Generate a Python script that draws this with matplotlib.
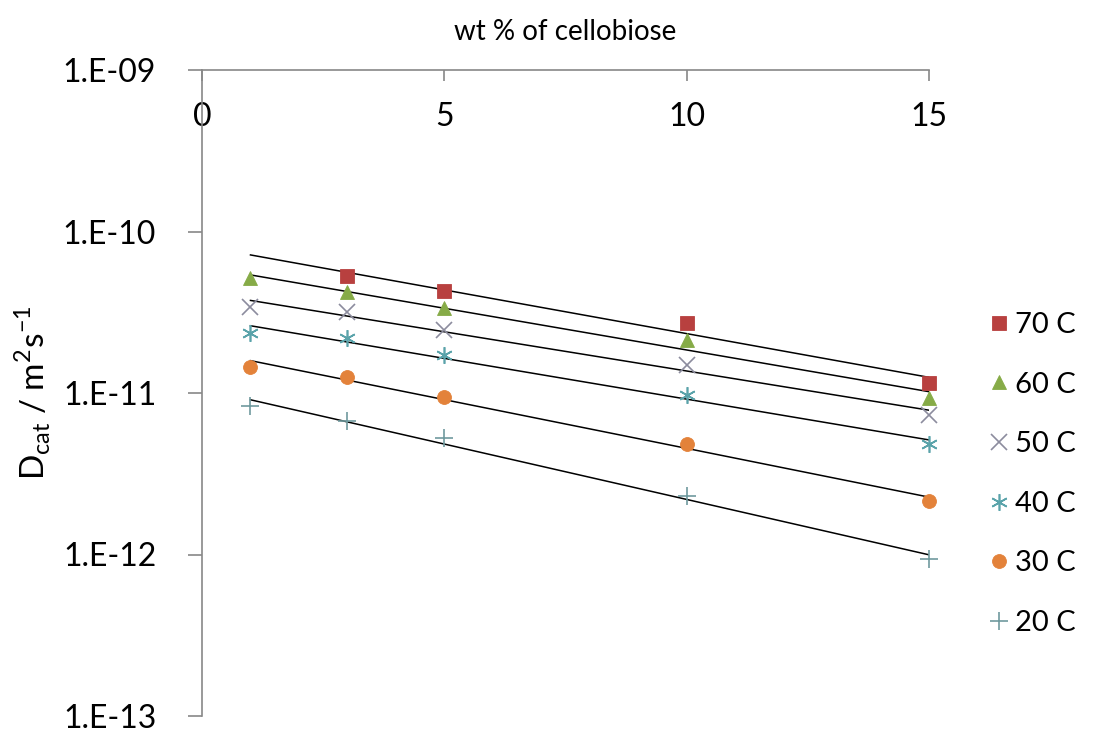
import numpy as np
import matplotlib
matplotlib.use("Agg")
from matplotlib import pyplot as plt
from matplotlib.ticker import FixedLocator, FuncFormatter

plt.rcParams['font.family'] = ['Lato', 'DejaVu Sans']
plt.rcParams['mathtext.fontset'] = 'custom'
plt.rcParams['mathtext.rm'] = 'Lato'

# Concentration of cellobiose (wt %)
wt = [1, 3, 5, 10, 15]

# Diffusion coefficients per temperature (m^2/s), None where not measured
d70 = [None, 5.3e-11, 4.3e-11, 2.7e-11, 1.15e-11]
d60 = [5.15e-11, 4.2e-11, 3.36e-11, 2.13e-11, 9.3e-12]
d50 = [3.4e-11, 3.17e-11, 2.45e-11, 1.49e-11, 7.3e-12]
d40 = [2.35e-11, 2.19e-11, 1.72e-11, 9.7e-12, 4.83e-12]
d30 = [1.45e-11, 1.26e-11, 9.45e-12, 4.83e-12, 2.14e-12]
d20 = [8.3e-12, 6.7e-12, 5.27e-12, 2.3e-12, 9.4e-13]

labels = ['70 C', '60 C', '50 C', '40 C', '30 C', '20 C']
series = [d70, d60, d50, d40, d30, d20]
colors = ['#B8403F', '#86AB47', '#8C8C9E', '#5AA3AA', '#E3823A', '#6F9A9E']
markers = ['s', '^', 'x', (6, 2, 0), 'o', '+']
sizes = [10, 10, 11, 12, 10, 13]

fig = plt.figure(figsize=(10.99, 7.34), dpi=100)
ax = fig.add_axes([202 / 1099, 1 - 716 / 734, 727 / 1099, 646 / 734])

for lab, ys, c, m, s in zip(labels, series, colors, markers, sizes):
    x = np.array([a for a, b in zip(wt, ys) if b is not None], dtype=float)
    y = np.array([b for b in ys if b is not None], dtype=float)
    # exponential trendline: straight fit on log10 scale
    k, b0 = np.polyfit(x, np.log10(y), 1)
    xf = np.array([1.0, 15.0])
    ax.plot(xf, 10 ** (k * xf + b0), color='black', lw=1.1, zorder=2)
    mew = 0.6 if m in ('s', '^', 'o') else 1.2
    ax.plot(x, y, linestyle='none', marker=m, ms=s, color=c, mec=c,
            mew=mew, label=lab, zorder=3, clip_on=False)

ax.set_yscale('log')
ax.set_ylim(1e-13, 1e-9)
ax.set_xlim(0, 15)

ax.yaxis.set_major_locator(FixedLocator([1e-13, 1e-12, 1e-11, 1e-10, 1e-9]))
ax.yaxis.set_minor_locator(FixedLocator([]))
ax.yaxis.set_major_formatter(
    FuncFormatter(lambda v, p: '1.E-%02d' % round(-np.log10(v))))
ax.set_xticks([0, 5, 10, 15])

for sp in ['right', 'bottom']:
    ax.spines[sp].set_visible(False)
for sp in ['left', 'top']:
    ax.spines[sp].set_color('#888888')
    ax.spines[sp].set_linewidth(1.2)

ax.tick_params(axis='y', direction='out', length=10, width=1.2,
               color='#888888', labelsize=23, pad=23)
ax.tick_params(axis='x', bottom=False, labelbottom=False, top=True,
               labeltop=True, direction='in', length=8, width=1.2,
               color='#888888', labelsize=23, pad=-45)

ax.set_ylabel(r'D$_\mathregular{cat}$ / m$^\mathregular{2}$s$^\mathregular{-1}$',
              fontsize=24)
ax.yaxis.set_label_coords(-0.205, 0.5)
fig.text(565 / 1099, 1 - 32 / 734, 'wt % of cellobiose', fontsize=20,
         ha='center', va='center')

fig.legend(loc='center left', bbox_to_anchor=(973 / 1099, 1 - 474 / 734),
           frameon=False, fontsize=21, labelspacing=1.15, handletextpad=0.15,
           handlelength=0.8, borderpad=0)

fig.savefig('out.png', dpi=100)
